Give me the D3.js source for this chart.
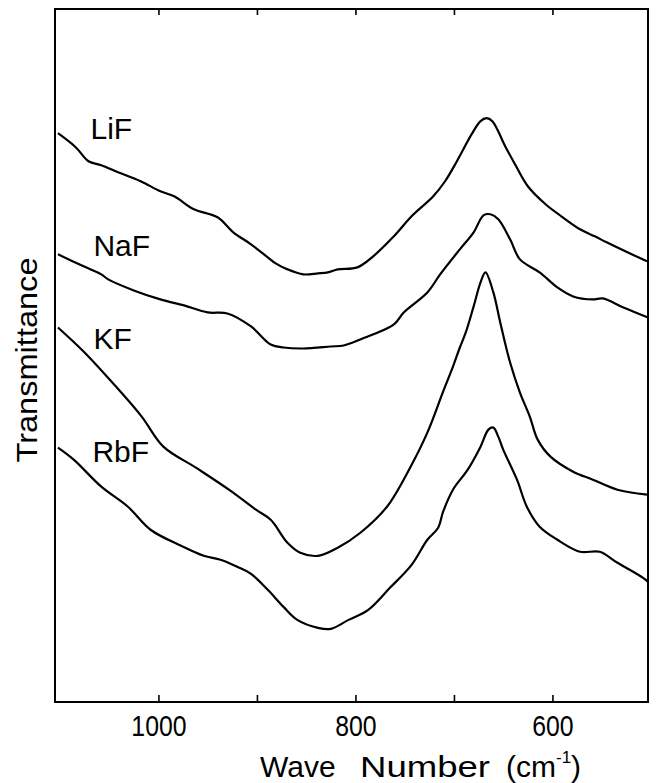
<!DOCTYPE html>
<html><head><meta charset="utf-8">
<script src="https://cdn.jsdelivr.net/npm/d3@7"></script>
<style>body{margin:0;background:#fff}svg{display:block}</style>
</head><body>
<svg id="c" width="658" height="783"></svg>
<script>
// ---- data (wave number cm^-1, transmittance in arbitrary units) ----
const categories = ["LiF", "NaF", "KF", "RbF"];
const xTicks = [1000, 900, 800, 700, 600];
const xTickLabels = ["1000", "", "800", "", "600"];
const yTitle = "Transmittance";

const LiF = [[1102,568],[1084,554],[1071,540],[1058,536],[1041,529],[1018,520],[998,510],[984,505],[964,492],[940,484],[924,469],[906,457],[889,444],[881,438],[869,432],[853,427],[838,428],[828,429],[818,432],[798,434],[782,445],[761,465],[743,485],[721,505],[709,520],[697,540],[682,567],[673,580],[667,583],[661,580],[648,555],[638,537],[625,515],[607,497],[591,485],[572,472],[557,465],[545,459],[526,450],[504,440]];
const NaF = [[1102,447],[1076,435],[1058,427],[1051,422],[1025,411],[998,402],[974,396],[950,389],[930,388],[906,375],[886,357],[873,354],[853,353],[825,355],[812,356],[795,362],[761,377],[751,389],[727,409],[714,427],[694,452],[680,469],[670,486],[663,487],[655,482],[643,462],[633,442],[613,429],[595,414],[579,405],[559,402],[549,403],[528,394],[503,384]];
const KF = [[1102,374],[1076,350],[1045,317],[1017,285],[995,255],[962,234],[927,211],[901,192],[886,182],[869,159],[856,149],[838,146],[818,154],[795,169],[768,195],[744,235],[727,269],[711,310],[701,335],[694,354],[688,369],[680,395],[673,419],[668,429],[660,409],[653,379],[643,339],[633,309],[623,285],[615,262],[602,245],[579,230],[559,222],[534,212],[504,207]];
const RbF = [[1102,254],[1086,242],[1058,215],[1031,195],[1008,172],[977,156],[954,146],[937,142],[920,135],[906,128],[889,112],[873,95],[859,82],[838,74],[825,73],[807,82],[787,92],[765,114],[743,137],[727,162],[716,174],[711,190],[701,212],[686,232],[673,255],[665,272],[660,274],[655,265],[650,252],[636,222],[626,195],[613,175],[595,162],[572,150],[552,150],[534,139],[508,124],[503,120]];
const seriesValues = [LiF, NaF, KF, RbF];
// label anchor in data coordinates
const labelAnchors = [[1069,562],[1066,445],[1066,352],[1067,240]];

// ---- layout ----
const W = 658, H = 783;
const m = {left: 55, right: 10, top: 9, bottom: 81};
const x = d3.scaleLinear().domain([1105, 503]).range([m.left, W - m.right]);
const y = d3.scaleLinear().domain([0, 692]).range([H - m.bottom, m.top]);
const FONT = "'Liberation Sans', Arial, sans-serif";

const svg = d3.select("#c");

// frame
svg.append("rect")
  .attr("x", x.range()[0]).attr("y", y.range()[1])
  .attr("width", x.range()[1] - x.range()[0])
  .attr("height", y.range()[0] - y.range()[1])
  .attr("fill", "none").attr("stroke", "#000").attr("stroke-width", 2);

// bottom axis (inward ticks)
const gb = svg.append("g").attr("transform", `translate(0,${y.range()[0]})`)
  .call(d3.axisBottom(x).tickValues(xTicks).tickSizeInner(-7).tickSizeOuter(0)
    .tickFormat((d, i) => xTickLabels[i]));
gb.select(".domain").remove();
gb.selectAll(".tick line").attr("stroke", "#000").attr("stroke-width", 1.6);
gb.selectAll(".tick text")
  .attr("y", 34).attr("dy", 0)
  .attr("font-family", FONT).attr("font-size", 30).attr("fill", "#000")
  .each(function() {
    const t = d3.select(this).text();
    if (t) d3.select(this).attr("textLength", t.length * 13.8).attr("lengthAdjust", "spacingAndGlyphs");
  });

// top axis (inward ticks)
const gt = svg.append("g").attr("transform", `translate(0,${y.range()[1]})`)
  .call(d3.axisTop(x).tickValues(xTicks).tickSizeInner(-6).tickSizeOuter(0).tickFormat(""));
gt.select(".domain").remove();
gt.selectAll(".tick line").attr("stroke", "#000").attr("stroke-width", 1.6);

// curves
const line = d3.line().x(d => x(d[0])).y(d => y(d[1])).curve(d3.curveCatmullRom.alpha(0.5));
svg.append("g").selectAll("path").data(seriesValues).join("path")
  .attr("d", line).attr("fill", "none").attr("stroke", "#000")
  .attr("stroke-width", 2.2).attr("stroke-linejoin", "round");

// series labels
svg.append("g").selectAll("text").data(categories).join("text")
  .attr("x", (d, i) => x(labelAnchors[i][0]))
  .attr("y", (d, i) => y(labelAnchors[i][1]))
  .attr("font-family", FONT).attr("font-size", 30).attr("fill", "#000")
  .text(d => d);

// x title
const xt = svg.append("text").attr("y", 777).attr("font-family", FONT)
  .attr("font-size", 30).attr("fill", "#000");
xt.append("tspan").attr("x", 260).text("Wave");
xt.append("tspan").attr("x", 360).attr("textLength", 130).attr("lengthAdjust", "spacingAndGlyphs").text("Number");
xt.append("tspan").attr("x", 506).text("(cm");
xt.append("tspan").attr("font-size", 17).attr("dy", -14).text("-1");
xt.append("tspan").attr("font-size", 30).attr("dy", 14).text(")");

// y title
svg.append("text")
  .attr("transform", "translate(37,360) rotate(-90)")
  .attr("text-anchor", "middle")
  .attr("font-family", FONT).attr("font-size", 30).attr("fill", "#000")
  .attr("textLength", 205).attr("lengthAdjust", "spacingAndGlyphs")
  .text(yTitle);
</script>
</body></html>
